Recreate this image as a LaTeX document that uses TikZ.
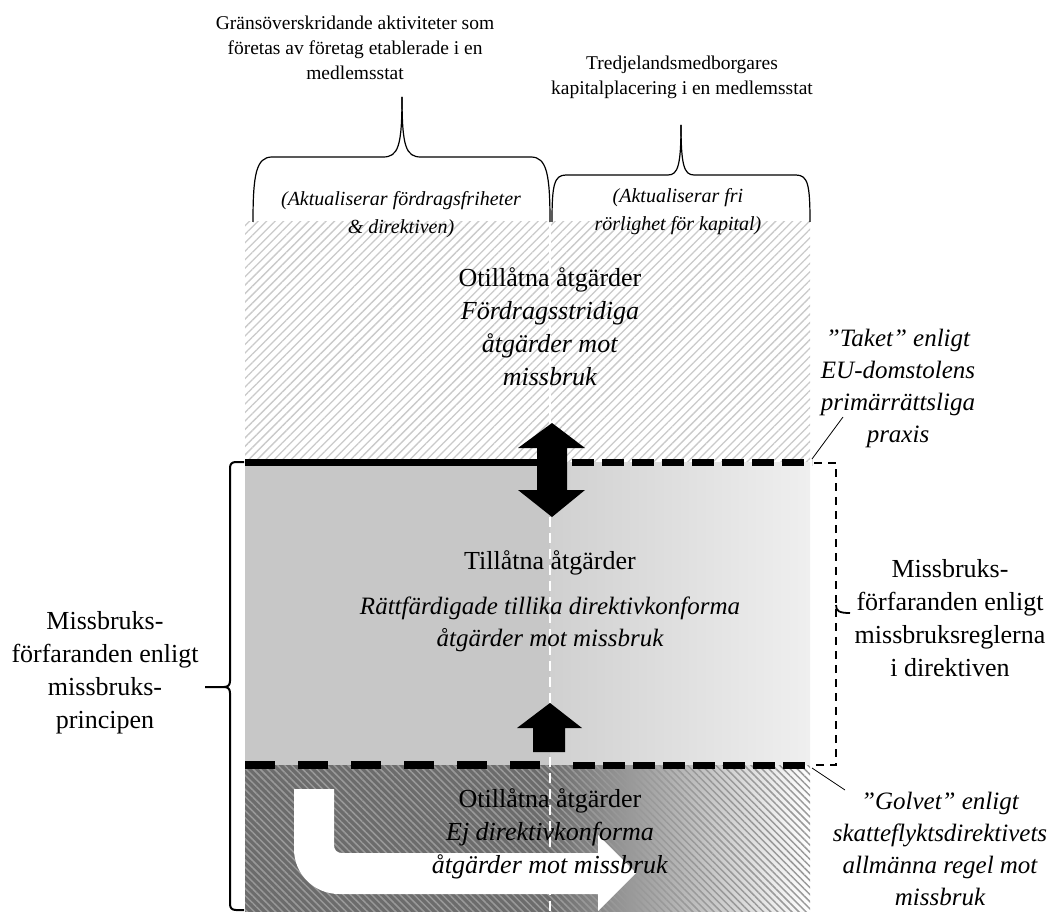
\documentclass[tikz,border=0pt]{standalone}
\usepackage{fontspec}
\setmainfont{Liberation Serif}
\usetikzlibrary{patterns.meta}
\definecolor{midL}{HTML}{C7C7C7}
\definecolor{midR1}{HTML}{D0D0D0}
\definecolor{midR2}{HTML}{EFEFEF}
\definecolor{darkbg}{HTML}{6C6C6C}
\definecolor{stripe}{HTML}{999999}
\definecolor{hatch}{HTML}{CACACA}
\tikzset{
  lbl/.style={align=center, inner sep=0pt, font=\fontsize{19.5}{25}\selectfont},
  ilbl/.style={align=center, inner sep=0pt, font=\fontsize{20}{28}\selectfont\itshape},
  big/.style={align=center, inner sep=0pt, font=\fontsize{26}{33}\selectfont},
  bigit/.style={align=center, inner sep=0pt, font=\fontsize{25}{32}\selectfont\itshape},
  brace/.style={draw=black, line width=1.2pt},
  lbrace/.style={draw=black, line width=2pt},
  thickline/.style={draw=black, line width=7pt},
  bigdash/.style={draw=black, line width=8pt, dash pattern=on 30pt off 23pt},
  smalldash/.style={draw=black, line width=7pt, dash pattern=on 22pt off 8pt},
  thindash/.style={draw=black, line width=2.4pt, dash pattern=on 8pt off 6pt},
  whitedash/.style={draw=white, line width=2pt, dash pattern=on 10pt off 6pt},
  leader/.style={draw=black, line width=0.8pt},
  blockarrow/.style={fill=black, draw=none},
}
\begin{document}
\begin{tikzpicture}[x=1pt,y=-1pt]
\useasboundingbox (0,0) rectangle (1052,912);

% ---- regions
\fill[white] (245,222) rectangle (810,462);
\path[pattern={Lines[angle=45,distance=6pt,line width=1.3pt]}, pattern color=hatch] (245,222) rectangle (810,462);
\draw[white, line width=1.5pt] (550,222) -- (550,462);

\fill[midL] (245,462) rectangle (550,765);
\shade[left color=midR1, right color=midR2] (550,462) rectangle (810,765);

\fill[darkbg] (245,765) rectangle (550,912);
\shade[left color=darkbg, right color=white] (550,765) rectangle (810,912);
\path[pattern={Lines[angle=-45,distance=5pt,line width=1.5pt]}, pattern color=stripe] (245,765) rectangle (810,912);

% ---- white bent arrow
\fill[white] (294,789) -- (334,789) -- (334,845) .. controls (334,850) and (337,853) .. (342,853)
  -- (598,853) -- (598,835) -- (636,873) -- (598,911) -- (598,894) -- (339,894)
  .. controls (314,894) and (294,874) .. (294,849) -- cycle;

% ---- white dashed divider
\coordinate (divtop) at (550,517);
\coordinate (divbot) at (550,912);
\draw[whitedash] (divtop) -- (divbot);

% ---- boundary lines
\coordinate (ceilL) at (245,462);
\coordinate (ceilM) at (545,462);
\coordinate (ceilR0) at (572,462);
\coordinate (ceilR) at (812,462);
\coordinate (floorL) at (245,765);
\coordinate (floorM) at (548,765);
\coordinate (floorR0) at (573,765);
\coordinate (floorR) at (812,765);
\draw[thickline] (ceilL) -- (ceilM);
\draw[smalldash] (ceilR0) -- (ceilR);
\draw[bigdash] (floorL) -- (floorM);
\draw[smalldash] (floorR0) -- (floorR);

% ---- block arrows
\fill[blockarrow] (552,423) -- (585,448) -- (567,448) -- (567,490) -- (585,490) -- (552,517)
  -- (518,490) -- (537,490) -- (537,448) -- (518,448) -- cycle;
\fill[blockarrow] (550,703) -- (582,728) -- (565,728) -- (565,752) -- (533,752) -- (533,728) -- (517,728) -- cycle;

% ---- right dashed bracket
\coordinate (rb1) at (814,463);
\coordinate (rb2) at (836,463);
\coordinate (rb3) at (836,765);
\coordinate (rb4) at (814,765);
\draw[thindash] (rb1) -- (rb2) -- (rb3) -- (rb4);
\draw[line width=1.8pt] (836,605) .. controls (836,611) and (839,613) .. (850,613);

% ---- left brace
\draw[lbrace] (244,462) -- (236,462) .. controls (232,462) and (230,464) .. (230,468) -- (230,681)
  .. controls (230,685) and (228,687) .. (224,687) -- (205,687);
\draw[lbrace] (244,910) -- (236,910) .. controls (232,910) and (230,908) .. (230,904) -- (230,693)
  .. controls (230,689) and (228,687) .. (224,687);

% ---- top braces
\draw[brace] (253,222) .. controls (253,175) and (256,157) .. (272,157) -- (383,157)
  .. controls (398,157) and (402,147) .. (402,97);
\draw[brace] (550,222) .. controls (550,175) and (547,157) .. (531,157) -- (421,157)
  .. controls (406,157) and (402,147) .. (402,97);
\draw[brace] (552,222) .. controls (552,185) and (554,175) .. (566,175) -- (668,175)
  .. controls (678,175) and (681,165) .. (681,125);
\draw[brace] (810,222) .. controls (810,185) and (808,175) .. (796,175) -- (694,175)
  .. controls (684,175) and (681,165) .. (681,125);

% ---- texts
\node[lbl] (topL) at (355,48) {Gränsöverskridande aktiviteter som\\företas av företag etablerade i en\\medlemsstat};
\node[lbl] (topR) at (682,77) {Tredjelandsmedborgares\\kapitalplacering i en medlemsstat};
\node[ilbl] (actL) at (401,215) {(Aktualiserar fördragsfriheter\\\& direktiven)};
\node[ilbl] (actR) at (678,212) {(Aktualiserar fri\\rörlighet för kapital)};

\node[big] (upper) at (550,327) {Otillåtna åtgärder\\\textit{Fördragsstridiga}\\\textit{åtgärder mot}\\\textit{missbruk}};
\node[big] (allowed) at (550,563) {Tillåtna åtgärder};
\node[bigit] (allowedit) at (550,624) {Rättfärdigade tillika direktivkonforma\\åtgärder mot missbruk};
\node[big] (lower) at (550,834) {Otillåtna åtgärder\\\textit{Ej direktivkonforma}\\\textit{åtgärder mot missbruk}};

\node[big] (leftlbl) at (105,673) {Missbruks-\\förfaranden enligt\\missbruks-\\principen};
\node[big] (rightlbl) at (950,618) {Missbruks-\\förfaranden enligt\\missbruksreglerna\\i direktiven};
\node[bigit] (taket) at (898,388) {”Taket” enligt\\EU-domstolens\\primärrättsliga\\praxis};
\node[bigit] (golvet) at (940,849) {”Golvet” enligt\\skatteflyktsdirektivets\\allmänna regel mot\\missbruk};

% ---- leader lines
\coordinate (takA) at (812,459);
\coordinate (takB) at (843,417);
\coordinate (golA) at (812,768);
\coordinate (golB) at (845,790);
\draw[leader] (takA) -- (takB);
\draw[leader] (golA) -- (golB);
\end{tikzpicture}
\end{document}
